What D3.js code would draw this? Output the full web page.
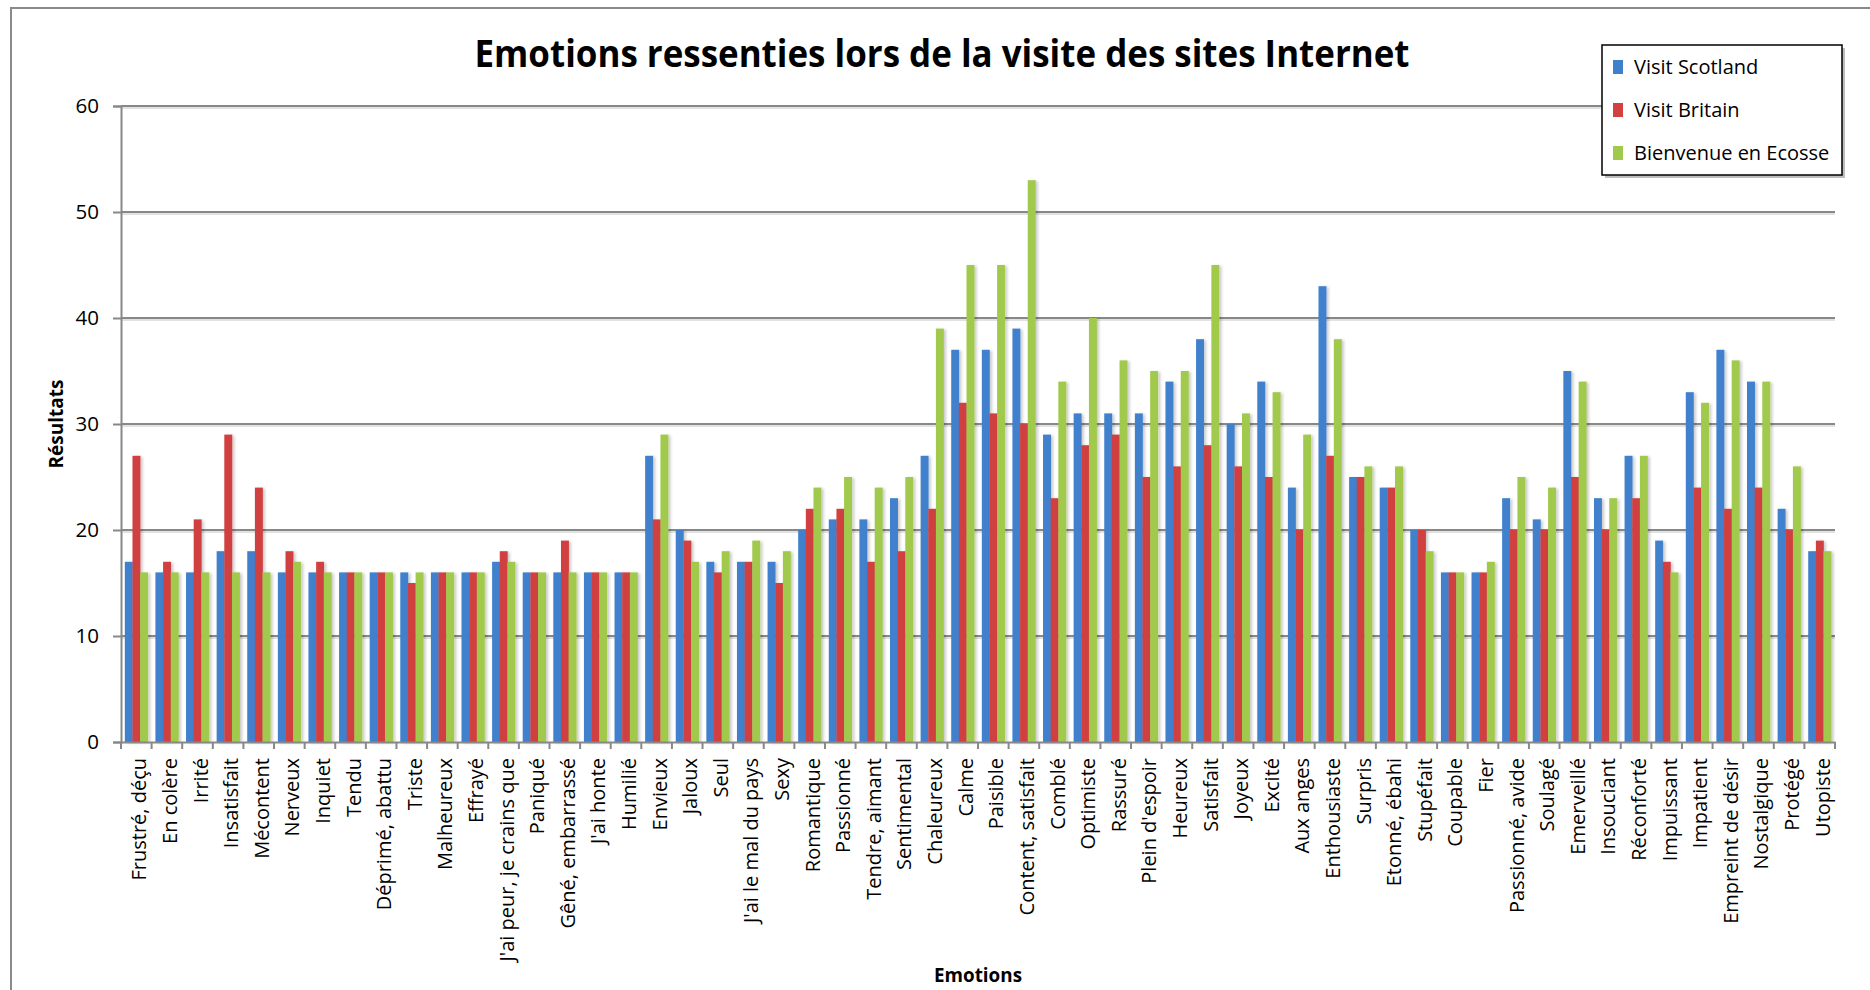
<!DOCTYPE html>
<html>
<head>
<meta charset="utf-8">
<script src="https://cdn.jsdelivr.net/npm/d3@7"></script>
<style>
  html, body { margin: 0; padding: 0; background: #fff; }
  svg { display: block; }
  text { font-family: "Open Sans", sans-serif; fill: #000; }
</style>
</head>
<body>
<div id="chart"></div>
<script>
// données
const categories = [
  "Frustré, déçu", "En colère", "Irrité", "Insatisfait", "Mécontent", "Nerveux",
  "Inquiet", "Tendu", "Déprimé, abattu", "Triste", "Malheureux", "Effrayé",
  "J'ai peur, je crains que", "Paniqué", "Gêné, embarrassé", "J'ai honte", "Humilié",
  "Envieux", "Jaloux", "Seul", "J'ai le mal du pays", "Sexy", "Romantique",
  "Passionné", "Tendre, aimant", "Sentimental", "Chaleureux", "Calme", "Paisible",
  "Content, satisfait", "Comblé", "Optimiste", "Rassuré", "Plein d'espoir", "Heureux",
  "Satisfait", "Joyeux", "Excité", "Aux anges", "Enthousiaste", "Surpris",
  "Etonné, ébahi", "Stupéfait", "Coupable", "Fier", "Passionné, avide", "Soulagé",
  "Emerveillé", "Insouciant", "Réconforté", "Impuissant", "Impatient",
  "Empreint de désir", "Nostalgique", "Protégé", "Utopiste"
];
const visitScotland = [
  17, 16, 16, 18, 18, 16, 16, 16, 16, 16, 16, 16, 17, 16, 16, 16, 16, 27, 20, 17,
  17, 17, 20, 21, 21, 23, 27, 37, 37, 39, 29, 31, 31, 31, 34, 38, 30, 34, 24, 43,
  25, 24, 20, 16, 16, 23, 21, 35, 23, 27, 19, 33, 37, 34, 22, 18
];
const visitBritain = [
  27, 17, 21, 29, 24, 18, 17, 16, 16, 15, 16, 16, 18, 16, 19, 16, 16, 21, 19, 16,
  17, 15, 22, 22, 17, 18, 22, 32, 31, 30, 23, 28, 29, 25, 26, 28, 26, 25, 20, 27,
  25, 24, 20, 16, 16, 20, 20, 25, 20, 23, 17, 24, 22, 24, 20, 19
];
const bienvenueEcosse = [
  16, 16, 16, 16, 16, 17, 16, 16, 16, 16, 16, 16, 17, 16, 16, 16, 16, 29, 17, 18,
  19, 18, 24, 25, 24, 25, 39, 45, 45, 53, 34, 40, 36, 35, 35, 45, 31, 33, 29, 38,
  26, 26, 18, 16, 17, 25, 24, 34, 23, 27, 16, 32, 36, 34, 26, 18
];
const seriesNames = ["Visit Scotland", "Visit Britain", "Bienvenue en Ecosse"];
const seriesColors = ["#3f80cd", "#d14141", "#a1c94b"];
const yTicks = [0, 10, 20, 30, 40, 50, 60];

const W = 1870, H = 990;
const margin = { left: 121, right: 35, top: 106, bottom: 248 };

const setAttrs = (el, attrs) =>
  Object.entries(attrs).reduce((acc, [k, v]) => acc.attr(k, v), el);

// texte resserré si trop large (police proche de Calibri)
const fitText = (sel, maxW) => {
  if (sel.node().getComputedTextLength() > maxW) {
    sel.attr("textLength", maxW).attr("lengthAdjust", "spacingAndGlyphs");
  }
  return sel;
};

const svg = d3.select("#chart").append("svg").attr("width", W).attr("height", H);

// ombre des barres
const defs = svg.append("defs");
const shadow = defs.append("filter").attr("id", "barShadow")
  .attr("x", "-50%").attr("y", "-10%").attr("width", "200%").attr("height", "120%");
shadow.append("feDropShadow")
  .attr("dx", 2).attr("dy", 1).attr("stdDeviation", 1.6)
  .attr("flood-color", "#000").attr("flood-opacity", 0.22);

// cadre extérieur
setAttrs(svg.append("rect"), {
  x: 11, y: 8, width: W + 20, height: H + 20,
  fill: "none", stroke: "#8a8a8a", "stroke-width": 2
});

// échelles
const x0 = d3.scaleBand()
  .domain(categories)
  .range([margin.left, W - margin.right])
  .paddingInner(0.25)
  .paddingOuter(0.125);
const x1 = d3.scaleBand().domain(seriesNames).range([0, x0.bandwidth()]);
const y = d3.scaleLinear().domain([0, 60]).range([H - margin.bottom, margin.top]);

// grille
const grid = svg.append("g");
yTicks.filter(t => t > 0).forEach(t => {
  setAttrs(grid.append("line"), {
    x1: margin.left, x2: W - margin.right, y1: y(t) + 2, y2: y(t) + 2,
    stroke: "#d9d9d9", "stroke-width": 1.5
  });
  setAttrs(grid.append("line"), {
    x1: margin.left, x2: W - margin.right, y1: y(t), y2: y(t),
    stroke: "#888", "stroke-width": 2
  });
});

// axe Y
const yAxis = svg.append("g")
  .attr("transform", `translate(${margin.left},0)`)
  .call(d3.axisLeft(y).tickValues(yTicks).tickSize(8).tickPadding(14));
yAxis.select(".domain").attr("stroke", "#888").attr("stroke-width", 2);
yAxis.selectAll(".tick line").attr("stroke", "#888").attr("stroke-width", 2);
yAxis.selectAll(".tick text")
  .attr("font-family", "Open Sans, sans-serif").attr("font-size", 20.5).attr("fill", "#000");

// barres
const series = [visitScotland, visitBritain, bienvenueEcosse];
const groups = svg.append("g").selectAll("g")
  .data(categories)
  .join("g")
  .attr("transform", d => `translate(${x0(d)},0)`);
groups.selectAll("rect")
  .data((d, i) => seriesNames.map((s, j) => ({ s, v: series[j][i], c: seriesColors[j] })))
  .join("rect")
  .attr("x", d => x1(d.s))
  .attr("y", d => y(d.v))
  .attr("width", x1.bandwidth() + 0.3)
  .attr("height", d => y(0) - y(d.v))
  .attr("fill", d => d.c)
  .attr("filter", "url(#barShadow)");

// axe X
const xAxis = svg.append("g")
  .attr("transform", `translate(0,${y(0)})`)
  .call(d3.axisBottom(x0).tickSize(0).tickPadding(0));
xAxis.select(".domain").attr("stroke", "#888").attr("stroke-width", 2);
xAxis.selectAll(".tick text")
  .attr("font-family", "Open Sans, sans-serif").attr("font-size", 20).attr("fill", "#000")
  .attr("text-anchor", "end")
  .attr("transform", "translate(3,16) rotate(-90)")
  .attr("dx", 0).attr("dy", "0.35em").attr("y", 0);
// graduations entre les catégories
const step = x0.step();
xAxis.selectAll(".bound")
  .data(d3.range(categories.length + 1))
  .join("line")
  .attr("class", "bound")
  .attr("x1", i => margin.left + i * step).attr("x2", i => margin.left + i * step)
  .attr("y1", 0).attr("y2", 7)
  .attr("stroke", "#888").attr("stroke-width", 2);

// titres
const title = svg.append("text")
  .attr("x", 942).attr("y", 67)
  .attr("text-anchor", "middle")
  .attr("font-family", "Lato, sans-serif")
  .attr("font-weight", "bold").attr("font-size", 38)
  .text("Emotions ressenties lors de la visite des sites Internet");
fitText(title, 935);

svg.append("text")
  .attr("transform", `translate(63,424) rotate(-90)`)
  .attr("text-anchor", "middle")
  .attr("font-weight", "bold").attr("font-size", 19)
  .text("Résultats");

const xTitle = svg.append("text")
  .attr("x", (margin.left + W - margin.right) / 2).attr("y", 982)
  .attr("text-anchor", "middle")
  .attr("font-family", "Lato, sans-serif")
  .attr("font-weight", "bold").attr("font-size", 20)
  .text("Emotions");
fitText(xTitle, 88);

// légende
const legend = svg.append("g").attr("transform", "translate(1602,45)");
setAttrs(legend.append("rect"), { x: 3, y: 3, width: 240, height: 130, fill: "#bdbdbd" });
setAttrs(legend.append("rect"), {
  x: 0, y: 0, width: 240, height: 130, fill: "#fff", stroke: "#000", "stroke-width": 1.5
});
seriesNames.forEach((name, i) => {
  const cy = 22 + i * 43;
  setAttrs(legend.append("rect"), {
    x: 11, y: cy - 7, width: 10, height: 14, fill: seriesColors[i]
  });
  legend.append("text")
    .attr("x", 32).attr("y", cy).attr("dy", "0.35em")
    .attr("font-size", 20)
    .text(name);
});
</script>
</body>
</html>
